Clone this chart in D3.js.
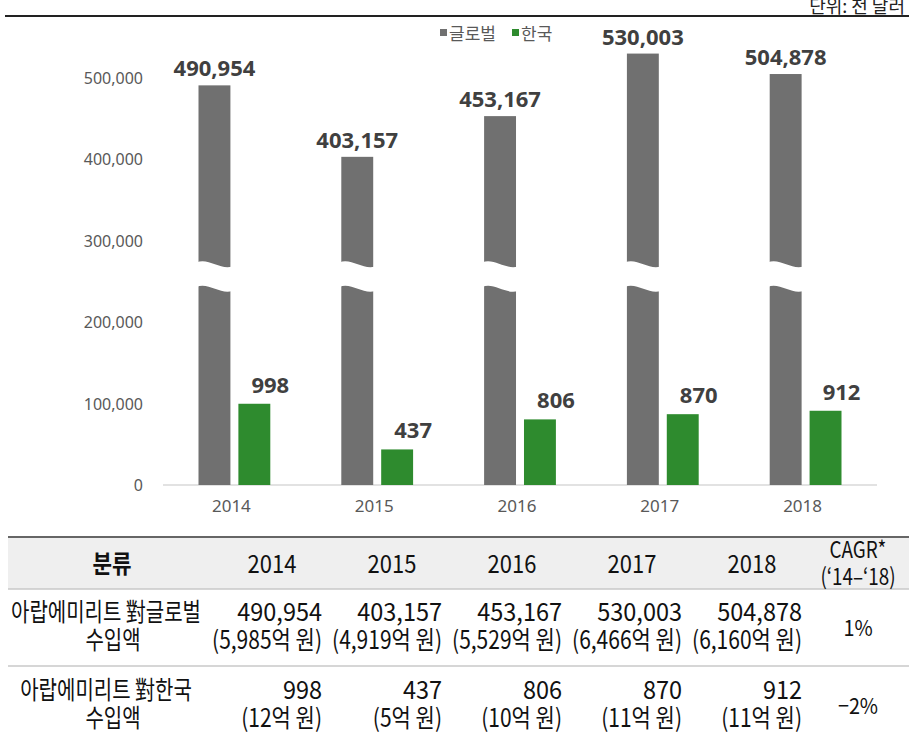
<!DOCTYPE html>
<html>
<head>
<meta charset="utf-8">
<script src="https://cdn.jsdelivr.net/npm/d3@7"></script>
<style>
  body { margin: 0; background: #fff; }
  svg { display: block; }
</style>
</head>
<body>
<svg id="chart" width="909" height="739"></svg>
<script>
// data
const years = ["2014", "2015", "2016", "2017", "2018"];
const globalVals = [490954, 403157, 453167, 530003, 504878];
const koreaVals = [998, 437, 806, 870, 912];
const globalKrw = ["(5,985억 원)", "(4,919억 원)", "(5,529억 원)", "(6,466억 원)", "(6,160억 원)"];
const koreaKrw = ["(12억 원)", "(5억 원)", "(10억 원)", "(11억 원)", "(11억 원)"];
const cagr = ["1%", "−2%"];
const seriesNames = ["글로벌", "한국"];
const yTicks = [0, 100000, 200000, 300000, 400000, 500000];

const sansFont = "'Noto Sans', 'Noto Sans CJK KR', sans-serif";
const krFont = "'Noto Sans CJK KR', 'Noto Sans', sans-serif";
const grayCol = "#707070", greenCol = "#2e8b2e", labelCol = "#404040", axisTxt = "#595959";

const svg = d3.select("#chart");

// unit line at top
svg.append("text").attr("x", 905).attr("y", 13).attr("text-anchor", "end")
  .style("font-family", krFont).style("font-size", "18px").attr("fill", "#222")
  .text("단위: 천 달러");
svg.append("line").attr("x1", 5).attr("x2", 909).attr("y1", 16).attr("y2", 16)
  .attr("stroke", "#222").attr("stroke-width", 2);

// scales
const x = d3.scaleBand().domain(years).range([163, 877]);
const x1 = d3.scaleBand().domain(["g", "k"]).range([0, x.bandwidth()])
  .paddingInner(0.2).paddingOuter(0.89);
const y = d3.scaleLinear().domain([0, 500000]).range([485, 78]);
// korea values are drawn at 100x to share the axis
const kScale = 100;

// y axis labels
svg.append("g").selectAll("text").data(yTicks).enter().append("text")
  .attr("x", 143).attr("y", d => y(d) + 6).attr("text-anchor", "end")
  .style("font-family", sansFont).style("font-size", "16px").attr("fill", axisTxt)
  .text(d => d3.format(",")(d));

// baseline
svg.append("line").attr("x1", 163).attr("x2", 877).attr("y1", y(0)).attr("y2", y(0))
  .attr("stroke", "#d9d9d9").attr("stroke-width", 1.5);

// x labels
svg.append("g").selectAll("text").data(years).enter().append("text")
  .attr("x", d => x(d) + x.bandwidth() / 2 - 3).attr("y", 512).attr("text-anchor", "middle")
  .style("font-family", sansFont).style("font-size", "17px").attr("fill", axisTxt)
  .text(d => d);

// gray bars
svg.append("g").selectAll("rect").data(years).enter().append("rect")
  .attr("x", d => x(d) + x1("g")).attr("width", x1.bandwidth())
  .attr("y", (d, i) => y(globalVals[i])).attr("height", (d, i) => y(0) - y(globalVals[i]))
  .attr("fill", grayCol);

// axis break
const brkTop = 271000, brkBot = 242000;
svg.append("g").selectAll("path").data(years).enter().append("path")
  .attr("d", d => {
    const x0 = x(d) + x1("g") - 2, x2 = x0 + x1.bandwidth() + 4, w = x2 - x0;
    const yT = y(brkTop), yB = y(brkBot);
    return `M${x0},${yT - 2} C${x0 + w / 3},${yT - 7} ${x0 + 2 * w / 3},${yT + 6} ${x2},${yT + 2}` +
      ` L${x2},${yB + 3} C${x0 + 2 * w / 3},${yB + 7} ${x0 + w / 3},${yB - 6} ${x0},${yB - 1} Z`;
  })
  .attr("fill", "#fff");

// green bars
svg.append("g").selectAll("rect").data(years).enter().append("rect")
  .attr("x", d => x(d) + x1("k")).attr("width", x1.bandwidth())
  .attr("y", (d, i) => y(koreaVals[i] * kScale)).attr("height", (d, i) => y(0) - y(koreaVals[i] * kScale))
  .attr("fill", greenCol);

// value labels
svg.append("g").selectAll("text").data(years).enter().append("text")
  .attr("x", d => x(d) + x1("g") + x1.bandwidth() / 2).attr("y", (d, i) => y(globalVals[i]) - 9)
  .attr("text-anchor", "middle")
  .style("font-family", sansFont).style("font-size", "22px").style("font-weight", "bold").attr("fill", labelCol)
  .text((d, i) => d3.format(",")(globalVals[i]));

svg.append("g").selectAll("text").data(years).enter().append("text")
  .attr("x", d => x(d) + x1("k") + x1.bandwidth() / 2 + 16).attr("y", (d, i) => y(koreaVals[i] * kScale) - 11)
  .attr("text-anchor", "middle")
  .style("font-family", sansFont).style("font-size", "22px").style("font-weight", "bold").attr("fill", labelCol)
  .text((d, i) => koreaVals[i]);

// legend
const leg = svg.append("g").attr("transform", "translate(440,40)");
const legItems = leg.selectAll("g").data(seriesNames).enter().append("g")
  .attr("transform", (d, i) => `translate(${i * 72},0)`);
legItems.append("rect").attr("x", 0).attr("y", -11).attr("width", 7).attr("height", 7)
  .attr("fill", (d, i) => i ? greenCol : grayCol);
legItems.append("text").attr("x", 9).attr("y", 0)
  .style("font-family", krFont).style("font-size", "17px").attr("fill", axisTxt)
  .text(d => d);

// table
const tbl = svg.append("g");
tbl.append("rect").attr("x", 8).attr("y", 537).attr("width", 901).attr("height", 52).attr("fill", "#efefef");
tbl.append("line").attr("x1", 8).attr("x2", 909).attr("y1", 537).attr("y2", 537).attr("stroke", "#666").attr("stroke-width", 2);
tbl.append("line").attr("x1", 8).attr("x2", 909).attr("y1", 589).attr("y2", 589).attr("stroke", "#c8c8c8").attr("stroke-width", 1.5);
tbl.append("line").attr("x1", 8).attr("x2", 909).attr("y1", 666).attr("y2", 666).attr("stroke", "#c8c8c8").attr("stroke-width", 1.5);

const colRight = d3.scaleBand().domain(years).range([202, 802]);
function cell(txt, xPos, yPos, anchor, opts) {
  opts = opts || {};
  return tbl.append("text")
    .attr("transform", `translate(${xPos},${yPos}) scale(${opts.sx || 0.86},1)`)
    .attr("text-anchor", anchor)
    .style("font-family", krFont).style("font-size", (opts.size || 25) + "px")
    .style("font-weight", opts.bold ? "bold" : "normal").attr("fill", "#111")
    .text(txt);
}
// header
cell("분류", 112, 573, "middle", { bold: true, sx: 0.85 });
years.forEach(yr => cell(yr, colRight(yr) + colRight.bandwidth() / 2 + 10, 573, "middle", { sx: 0.88 }));
cell("CAGR*", 858, 558, "middle", { size: 23, sx: 0.82 });
cell("(‘14–‘18)", 858, 585, "middle", { size: 23, sx: 0.82 });

// rows
const rows = [
  { label: ["아랍에미리트 對" + seriesNames[0], "수입액"], vals: globalVals.map(d3.format(",")), krw: globalKrw, y0: 621, cagr: cagr[0] },
  { label: ["아랍에미리트 對" + seriesNames[1], "수입액"], vals: koreaVals.map(String), krw: koreaKrw, y0: 699, cagr: cagr[1] }
];
rows.forEach(r => {
  cell(r.label[0], 106, r.y0, "middle", { sx: 0.8 });
  cell(r.label[1], 113, r.y0 + 28, "middle", { sx: 0.8 });
  years.forEach((yr, i) => {
    const xr = colRight(yr) + colRight.bandwidth();
    cell(r.vals[i], xr, r.y0, "end", { sx: 0.94 });
    cell(r.krw[i], xr, r.y0 + 28, "end", { sx: 0.84 });
  });
  cell(r.cagr, 858, r.y0 + 15, "middle", { size: 22, sx: 0.9 });
});
</script>
</body>
</html>
